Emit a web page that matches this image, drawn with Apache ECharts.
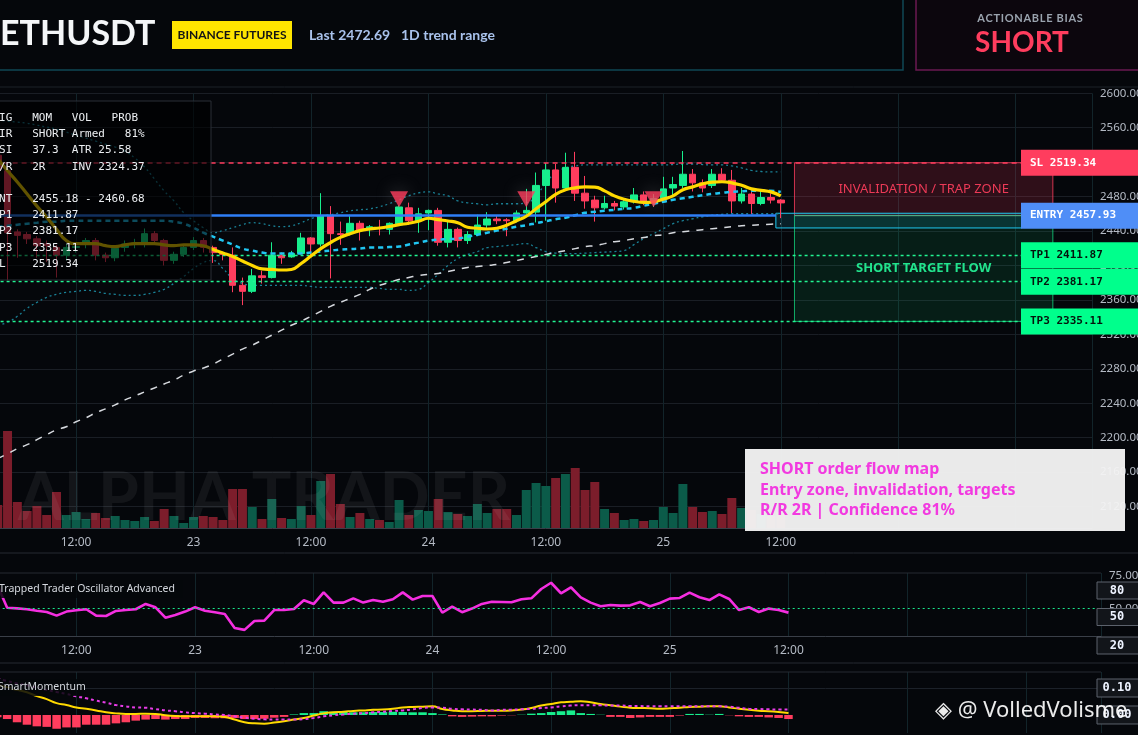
<!DOCTYPE html>
<html><head><meta charset="utf-8">
<script src="https://cdn.jsdelivr.net/npm/echarts@6/dist/echarts.min.js"></script>
<style>html,body{margin:0;padding:0;background:#05070b;overflow:hidden}#c{width:1138px;height:735px}</style>
</head><body><div id="c"></div>
<script>
// hours since 22 00:00 (hourly candles, 22 04:00 .. 25 12:00)
const hours = [4,5,6,7,8,9,10,11,12,13,14,15,16,17,18,19,20,21,22,23,24,25,26,27,28,29,30,31,32,33,34,35,36,37,38,39,40,41,42,43,44,45,46,47,48,49,50,51,52,53,54,55,56,57,58,59,60,61,62,63,64,65,66,67,68,69,70,71,72,73,74,75,76,77,78,79,80,81,82,83,84];
const lastLabelHour = 84;
// [open, close, low, high]
const ohlc = [
[2528,2512,2505,2534],[2510,2438,2383,2518],[2439,2435,2409,2442],[2436,2431,2425,2439],[2431,2423,2409,2434],
[2425,2423,2404,2429],[2421,2412,2386,2424],[2412,2421,2406,2425],[2421,2422,2415,2426],[2426,2429,2420,2432],
[2429,2412,2406,2432],[2412,2409,2404,2415],[2409,2420,2405,2423],[2421,2425,2416,2429],[2425,2426,2420,2431],
[2425,2437,2421,2443],[2437,2429,2425,2440],[2429,2406,2400,2431],[2406,2413,2402,2416],[2413,2421,2410,2424],
[2421,2429,2418,2433],[2429,2421,2415,2432],[2421,2415,2403,2423],[2414,2413,2406,2416],[2412,2377,2369,2421],
[2377,2370,2354,2386],[2370,2388,2368,2396],[2388,2386,2379,2394],[2386,2412,2385,2427],[2412,2409,2402,2415],
[2410,2414,2409,2417],[2414,2432,2413,2438],[2432,2425,2410,2433],[2425,2458,2422,2484],[2458,2437,2385,2469],
[2437,2436,2424,2451],[2437,2449,2435,2459],[2449,2441,2429,2452],[2442,2445,2434,2447],[2444,2443,2435,2453],
[2442,2449,2436,2450],[2447,2468,2446,2470],[2467,2452,2447,2473],[2452,2460,2438,2467],[2461,2464,2441,2465],
[2464,2427,2423,2467],[2427,2442,2421,2451],[2442,2429,2421,2444],[2429,2436,2425,2440],[2436,2447,2434,2459],
[2447,2454,2442,2462],[2454,2452,2448,2458],[2453,2452,2434,2455],[2452,2461,2450,2464],[2461,2464,2460,2489],
[2462,2493,2450,2508],[2493,2511,2452,2519],[2511,2490,2473,2518],[2490,2514,2489,2531],[2514,2484,2475,2532],
[2484,2475,2466,2504],[2476,2467,2451,2481],[2467,2472,2465,2481],[2472,2469,2464,2475],[2468,2474,2465,2478],
[2474,2482,2472,2490],[2482,2474,2470,2486],[2474,2478,2468,2483],[2478,2489,2477,2503],[2490,2494,2481,2503],
[2493,2506,2490,2533],[2506,2496,2486,2512],[2496,2490,2485,2500],[2493,2506,2490,2512],[2506,2499,2496,2513],
[2499,2475,2461,2511],[2475,2483,2472,2490],[2483,2472,2460,2487],[2472,2479,2470,2487],[2479,2476,2472,2484],
[2476,2472.69,2455,2477]
];
const volume = [23,97,26,17,22,13,36,13,16,9, 15,10,12,8,7,11,7,19,12,5, 11,12,11,8,39,39,21,9,29,10, 9,22,13,47,54,24,11,15,9,8,
 6,28,13,18,17,29,16,14,12,24, 15,19,19,13,38,45,42,50,54,60, 38,46,19,15,8,9,7,8,21,15, 44,21,16,17,14,30,20,18,14,12, 16];
const fastMA = [2524,2510,2497,2483,2469,2456,2442,2429,2425.4,2425.4, 2425.4,2423,2422,2424,2425.4,2425.4,2425.4,2424,2423,2424,
 2424,2423,2418.5,2414.5,2410.4,2405.2,2400,2396,2395.4,2394.8, 2395.4,2402.3,2411,2419.6,2426.6,2432.7,2437,2440.5,2442.4,2443.6,
 2445.3,2447.4,2449.1,2451.4,2454.9,2453.2,2451.7,2449.7,2444.5,2443.3, 2442.4,2443.3,2446.8,2452,2457.2,2465.9,2474,2482.7,2487.9,2490.2,
 2491.3,2491.1,2486.7,2480.9,2476.9,2474.6,2473.4,2474,2477.1,2480.9, 2487.9,2491.3,2494.8,2496.8,2497.3,2496,2493.1,2489,2487.3,2485.5, 2480.9];
const slowMA = [2445.1,2446.2,2447.4,2448.6,2449.7,2450.9,2450.9,2452,2452,2452, 2452,2452,2452,2452,2452,2452,2452,2452,2450.9,2448.6,
 2443.9,2438.1,2433.5,2428.9,2424.3,2419.6,2417.3,2415,2413.9,2413.9, 2413.9,2413.9,2415,2416.2,2417.3,2418.5,2419.1,2419.6,2420.8,2420.8,
 2421.4,2422,2424.3,2426.6,2428.9,2430.1,2430.6,2431.2,2433.5,2435.8, 2438.1,2440.5,2442.8,2445.1,2446.8,2449.1,2451.4,2453.8,2455.5,2458.4,
 2461.3,2462.4,2463.6,2464.7,2465.9,2467,2469.4,2471.7,2474,2476.3, 2478,2479.8,2481.5,2483.2,2484.4,2485.5,2486.1,2486.7,2486.7,2486.7, 2485.5];
const upperBand = [2568.8,2567.6,2566.5,2565.3,2563,2560.7,2558.4,2554.9,2551.4,2548, 2544.5,2541,2537.6,2532.9,2524.9,2514.4,2500.6,2486.7,2475.1,2461.3,
 2452,2443.9,2438.1,2440.5,2443.9,2447.4,2449.7,2448.6,2446.2,2445.1, 2446.2,2449.7,2454.3,2457.8,2459,2461.3,2463.6,2464.7,2465.9,2468.2,
 2471.7,2476.3,2480.9,2484.4,2485.5,2483.2,2480.9,2475.1,2472.8,2471.7, 2470.5,2471.7,2471.7,2471.7,2472.8,2480.9,2496,2507.5,2513.3,2515.6,
 2516.8,2516.8,2516.8,2516.8,2516.8,2516.8,2516.8,2516.8,2516.8,2517.3, 2517.9,2517.9,2517.3,2516.8,2516.8,2515.6,2513.3,2510.4,2509.2,2508.7, 2508.7];
const lowerBand = [2330.6,2334.1,2341,2350.3,2357.2,2363,2366.5,2368.8,2369.9,2371.1, 2369.9,2367.6,2366.5,2365.3,2365.3,2366.5,2368.8,2372.3,2379.2,2387.3,
 2396.5,2403.5,2405.8,2396.5,2385,2379.2,2376.9,2376.9,2376.9,2376.9, 2376.9,2376.9,2375.7,2374.6,2374.6,2374.6,2374.6,2374.6,2374.6,2373.4,
 2372.3,2372.3,2371.1,2372.3,2380.3,2389.6,2400,2408.1,2412.7,2416.2, 2420.8,2422,2423.1,2424.3,2425.4,2420.8,2416.2,2414.4,2413.9,2413.9,
 2414.4,2415,2415.6,2416.2,2417.3,2424.3,2431.2,2437,2442.8,2448.6, 2452,2454.3,2456.6,2458.4,2459.5,2460.1,2460.1,2460.1,2460.1,2460.1, 2460.1];
const trendMA = [2175.7,2181.5,2187.3,2191.9,2197.7,2203.5,2209.2,2212.7,2218.5,2223.1, 2228.9,2233.5,2238.2,2243.9,2248.5,2253.2,2257.8,2262.4,2267,2272.8,
 2277.4,2280.9,2285.5,2291.3,2297.1,2302.9,2307.5,2313.3,2319.1,2324.9, 2330.6,2335.3,2341,2346.8,2352.6,2357.2,2361.8,2366.5,2372.3,2376.9,
 2380.3,2383.8,2386.1,2388.4,2389.6,2390.8,2393.1,2395.4,2397.7,2398.8, 2400,2401.2,2403.5,2405.8,2408.1,2410.4,2412.7,2415,2417.3,2419.6,
 2422,2423.1,2425.4,2427.7,2428.9,2431.2,2432.4,2434.7,2435.8,2438.1, 2439.3,2440.5,2441.6,2442.8,2443.9,2445.1,2446.2,2446.8,2447.4,2448, 2448.6];
const signalHours = [45, 58, 71];
const signalLevel = 2477;
const oscTTO = [68.1,50.6,50.1,49.4,48.3,47.3,44.5,47.6,48.6,49.4, 44.5,44.2,48.1,48.8,49.4,53.5,50.9,42.9,45,47.6,
 50.9,48.3,47.1,45.8,35,33.5,40.4,40.6,48.8,48.8, 49.6,56.3,53.5,62.4,54.5,54.5,57.8,54.5,56.5,55.2,
 57.1,62.4,56.8,59.6,59.6,46.8,51.4,47.1,49.9,53.5, 55.2,55,54.8,57.1,57.8,65,69.8,61.7,66.3,58.6,
 54.5,51.7,52.7,52.2,52.4,55,51.7,54.2,57.6,58.1, 62.2,58.6,56.5,60.9,57.3,48.8,50.9,47.3,49.9,48.8, 46.8];
const momHist = [-0.008,-0.015,-0.027,-0.036,-0.042,-0.044,-0.051,-0.046,-0.046,-0.036, -0.036,-0.036,-0.031,-0.027,-0.021,-0.017,-0.015,-0.017,-0.015,-0.015,
 -0.011,-0.011,-0.012,-0.012,-0.011,-0.015,-0.015,-0.014,-0.010,-0.007, 0.002,0.007,0.007,0.014,0.012,0.012,0.010,0.010,0.011,0.011,
 0.012,0.011,0.010,0.010,0.007,0.002,-0.005,-0.007,-0.006,-0.005, -0.005,-0.002,-0.001,0.001,0.005,0.007,0.011,0.014,0.017,0.007,
 0.004,0.001,-0.007,-0.007,-0.011,-0.009,-0.007,-0.007,-0.007,-0.002, 0.004,0.004,0.001,0.004,-0.001,-0.005,-0.007,-0.007,-0.009,-0.011, -0.015];
const momLine = [0.112,0.102,0.093,0.084,0.070,0.059,0.044,0.037,0.028,0.023, 0.017,0.010,0.006,0.004,0.004,0.005,0.004,-0.001,-0.004,-0.005,
 -0.005,-0.005,-0.005,-0.007,-0.017,-0.027,-0.031,-0.032,-0.028,-0.023, -0.017,-0.011,-0.002,0.006,0.010,0.012,0.015,0.017,0.019,0.020,
 0.023,0.028,0.030,0.031,0.032,0.022,0.017,0.014,0.014,0.015, 0.016,0.016,0.017,0.020,0.026,0.035,0.041,0.047,0.049,0.051,
 0.047,0.041,0.036,0.031,0.027,0.026,0.025,0.023,0.025,0.027, 0.030,0.031,0.032,0.032,0.028,0.023,0.019,0.016,0.014,0.011, 0.007];
const momSignal = [0.135,0.126,0.117,0.110,0.101,0.093,0.085,0.078,0.069,0.062, 0.053,0.046,0.037,0.032,0.028,0.027,0.022,0.017,0.014,0.010,
 0.007,0.005,0.002,0.000,-0.005,-0.010,-0.014,-0.016,-0.017,-0.017, -0.017,-0.015,-0.011,-0.005,-0.001,0.002,0.005,0.007,0.010,0.012,
 0.015,0.017,0.021,0.026,0.028,0.027,0.023,0.021,0.020,0.019, 0.017,0.019,0.020,0.021,0.023,0.026,0.028,0.032,0.035,0.036,
 0.036,0.036,0.035,0.035,0.033,0.033,0.032,0.032,0.032,0.032, 0.032,0.032,0.032,0.032,0.031,0.027,0.023,0.022,0.021,0.020, 0.020];
// trade levels
const slLevel = 2519.34, entryLevel = 2457.93, tp1Level = 2411.87, tp2Level = 2381.17, tp3Level = 2335.11;
const entryZoneHigh = 2460.68, entryZoneLow = 2443.6;
const zoneStartHour = 85.4, zoneEndHour = 111.8, entryBoxStart = 83.5, entryBoxEnd = 108.6;
const oscTicks = [50, 75];
const momTicks = [0, 0.1];
const tableRows = ['SIG   MOM   VOL   PROB','DIR   SHORT Armed   81%','RSI   37.3  ATR 25.58','R/R   2R    INV 2324.37','','ENT   2455.18 - 2460.68','TP1   2411.87','TP2   2381.17','TP3   2335.11','SL    2519.34'];
const noteLines = ['SHORT order flow map','Entry zone, invalidation, targets','R/R 2R | Confidence 81%'];

const GREEN = '#17ef8d', RED = '#ff3d5e', AXC = '#b4bac4', LINEC = '#3a3f48';
function hourLabel(v){
  if (v > lastLabelHour + 1e-6) return '';
  const r24 = ((v % 24) + 24) % 24, r12 = ((v % 12) + 12) % 12;
  if (Math.abs(r24) < 1e-6) return String(22 + Math.round(v / 24));
  if (Math.abs(r12) < 1e-6) return '12:00';
  return '';
}
const pts = arr => hours.map((h, i) => [h, arr[i]]);
const candleData = hours.map((h, i) => [h, ohlc[i][0], ohlc[i][1], ohlc[i][2], ohlc[i][3]]);
const volData = hours.map((h, i) => ({ value: [h, volume[i]], itemStyle: { color: ohlc[i][1] >= ohlc[i][0] ? '#0b5b49' : '#7c1d2b' } }));
const histData = hours.map((h, i) => ({ value: [h, momHist[i]], itemStyle: { color: momHist[i] >= 0 ? GREEN : RED } }));

const chart = echarts.init(document.getElementById('c'));
const xBase = (grid, max, showLabel) => ({
  type: 'value', gridIndex: grid, min: 0, max: max, interval: 12,
  axisLabel: { show: showLabel, formatter: hourLabel, color: AXC, fontSize: 12, fontFamily: 'Noto Sans', margin: 9, showMaxLabel: false, showMinLabel: false },
  axisLine: { show: showLabel, lineStyle: { color: LINEC } },
  axisTick: { show: false },
  splitLine: { show: true, lineStyle: { color: '#12242a', width: 1 } }
});
const option = {
  backgroundColor: '#05070b',
  animation: false,
  grid: [
    { left: -41.4, width: 1133.4, top: 93.3, height: 413.3, outerBoundsMode: 'none' },
    { left: -41.4, width: 1133.4, top: 400, height: 128, outerBoundsMode: 'none' },
    { left: -42.3, width: 1143.3, top: 573, height: 63, outerBoundsMode: 'none' },
    { left: -42.3, width: 1143.3, top: 672, height: 61, outerBoundsMode: 'none' }
  ],
  xAxis: [xBase(0, 115.8, false), xBase(1, 115.8, true), xBase(2, 115.6, true), xBase(3, 115.6, false)],
  yAxis: [
    { type: 'value', gridIndex: 0, position: 'right', min: 2120, max: 2600, interval: 40,
      axisLabel: { formatter: v => v.toFixed(2), color: AXC, fontSize: 11.5, fontFamily: 'Noto Sans', margin: 8 },
      axisLine: { show: true, lineStyle: { color: LINEC } }, axisTick: { show: true, length: 4, lineStyle: { color: LINEC } },
      splitLine: { show: true, lineStyle: { color: '#1a1e25' } } },
    { type: 'value', gridIndex: 1, position: 'right', min: 0, max: 128,
      axisLabel: { show: false }, axisLine: { show: true, lineStyle: { color: LINEC } }, axisTick: { show: false }, splitLine: { show: false } },
    { type: 'value', gridIndex: 2, position: 'right', min: 28.8, max: 77.3,
      axisLabel: { customValues: oscTicks, formatter: v => v.toFixed(2), color: AXC, fontSize: 11.5, fontFamily: 'Noto Sans', margin: 8 },
      axisTick: { show: true, customValues: oscTicks, length: 4, lineStyle: { color: LINEC } },
      axisLine: { show: true, lineStyle: { color: LINEC } }, splitLine: { show: false } },
    { type: 'value', gridIndex: 3, position: 'right', min: -0.0667, max: 0.1593,
      axisLabel: { show: false }, axisTick: { show: false },
      axisLine: { show: true, lineStyle: { color: LINEC } }, splitLine: { show: false } }
  ],
  series: [
    { type: 'line', xAxisIndex: 0, yAxisIndex: 0, data: pts(upperBand), showSymbol: false, smooth: true, silent: true, z: 1,
      lineStyle: { color: '#1a8196', width: 1.3, type: [2, 3] } },
    { type: 'line', xAxisIndex: 0, yAxisIndex: 0, data: pts(lowerBand), showSymbol: false, smooth: true, silent: true, z: 1,
      lineStyle: { color: '#1a8196', width: 1.3, type: [2, 3] } },
    { type: 'line', xAxisIndex: 0, yAxisIndex: 0, data: pts(trendMA), showSymbol: false, smooth: true, silent: true, z: 1,
      lineStyle: { color: '#d6d9de', width: 1.5, type: [7, 7] } },
    { type: 'candlestick', xAxisIndex: 0, yAxisIndex: 0, data: candleData, encode: { x: 0, y: [1, 2, 3, 4] },
      barWidth: 7, z: 3, silent: true,
      itemStyle: { color: GREEN, color0: RED, borderColor: GREEN, borderColor0: RED, borderWidth: 1 },
      markLine: { silent: true, symbol: ['none', 'none'], label: { show: false }, animation: false,
        data: [
          { yAxis: slLevel, lineStyle: { color: RED, type: [5, 4], width: 1.6 } },
          { yAxis: tp1Level, lineStyle: { color: '#22f592', type: [3, 3], width: 1.3 } },
          { yAxis: tp2Level, lineStyle: { color: '#22f592', type: [3, 3], width: 1.3 } },
          { yAxis: tp3Level, lineStyle: { color: '#22f592', type: [3, 3], width: 1.3 } },
          [ { coord: [0, entryLevel], lineStyle: { color: '#2f7ff7', type: 'solid', width: 2.5 } }, { coord: [entryBoxStart, entryLevel] } ]
        ] },
      markArea: { silent: true,
        data: [
          [ { xAxis: zoneStartHour, yAxis: slLevel, itemStyle: { color: 'rgba(255,61,94,0.17)', borderColor: 'rgba(255,61,94,0.8)', borderWidth: 1 },
              label: { show: true, position: 'inside', formatter: 'INVALIDATION / TRAP ZONE', color: '#ec3a57', fontSize: 13, fontFamily: 'Noto Sans' } },
            { xAxis: zoneEndHour, yAxis: entryLevel } ],
          [ { xAxis: zoneStartHour, yAxis: entryLevel, itemStyle: { color: 'rgba(23,239,141,0.1)', borderColor: 'rgba(23,239,141,0.7)', borderWidth: 1 },
              label: { show: true, position: 'inside', formatter: 'SHORT TARGET FLOW', color: '#22e38d', fontSize: 13, fontWeight: 'bold', fontFamily: 'Noto Sans' } },
            { xAxis: zoneEndHour, yAxis: tp3Level } ],
          [ { xAxis: entryBoxStart, yAxis: entryZoneHigh, itemStyle: { color: 'rgba(30,200,240,0.13)', borderColor: '#1ec8f0', borderWidth: 1 }, label: { show: false } },
            { xAxis: entryBoxEnd, yAxis: entryZoneLow } ]
        ] } },
    { type: 'line', xAxisIndex: 0, yAxisIndex: 0, data: pts(slowMA), showSymbol: false, smooth: true, silent: true, z: 4,
      lineStyle: { color: '#20c6f2', width: 2.5, type: [5, 4] } },
    { type: 'line', xAxisIndex: 0, yAxisIndex: 0, data: pts(fastMA), showSymbol: false, smooth: true, silent: true, z: 5,
      lineStyle: { color: '#ffd900', width: 3.2 } },
    { type: 'scatter', xAxisIndex: 0, yAxisIndex: 0, data: signalHours.map(h => [h, signalLevel]), symbol: 'triangle', symbolRotate: 180,
      symbolSize: [18, 16], silent: true, z: 6,
      itemStyle: { color: RED, shadowBlur: 18, shadowColor: 'rgba(210,210,210,0.35)' } },
    { type: 'bar', xAxisIndex: 1, yAxisIndex: 1, data: volData, barWidth: 9, silent: true, z: 0 },
    { type: 'line', xAxisIndex: 2, yAxisIndex: 2, data: pts(oscTTO), showSymbol: false, silent: true, z: 3,
      lineStyle: { color: '#f52ee0', width: 2.6 },
      markLine: { silent: true, symbol: ['none', 'none'], label: { show: false },
        data: [ { yAxis: 50, lineStyle: { color: '#19e68c', type: [2, 3], width: 1 } } ] } },
    { type: 'bar', xAxisIndex: 3, yAxisIndex: 3, data: histData, barWidth: 8.5, silent: true, z: 2 },
    { type: 'line', xAxisIndex: 3, yAxisIndex: 3, data: pts(momLine), showSymbol: false, smooth: true, silent: true, z: 3,
      lineStyle: { color: '#ffd900', width: 2 } },
    { type: 'line', xAxisIndex: 3, yAxisIndex: 3, data: pts(momSignal), showSymbol: false, smooth: true, silent: true, z: 4,
      lineStyle: { color: '#e83ce8', width: 2, type: [3, 3] },
      markLine: { silent: true, symbol: ['none', 'none'], label: { show: false },
        data: [ { yAxis: momTicks[1], lineStyle: { color: '#1c2129', type: 'solid', width: 1 } } ] } }
  ]
};
chart.setOption(option);

const py = v => chart.convertToPixel({ yAxisIndex: 0 }, v);
const my = v => chart.convertToPixel({ yAxisIndex: 3 }, v);
const G = [];
const txt = (x, y, text, font, fill, align, z, extra) => G.push(Object.assign({ type: 'text', z: z || 100, silent: true,
  style: Object.assign({ x: x, y: y, text: text, font: font, fill: fill, textAlign: align || 'left', textVerticalAlign: 'middle' }, extra || {}) }));
const rect = (x, y, w, h, fill, stroke, z, lw) => G.push({ type: 'rect', z: z || 100, silent: true, shape: { x: x, y: y, width: w, height: h },
  style: { fill: fill, stroke: stroke || null, lineWidth: lw || 1 } });
const hline = (x1, x2, y, color, z) => G.push({ type: 'line', z: z || 90, silent: true, shape: { x1: x1, y1: y, x2: x2, y2: y }, style: { stroke: color, lineWidth: 1 } });

// header
txt(0, 34, 'ETHUSDT', 'bold 34px Lato', '#f4f6f8', 'left', 100, { shadowBlur: 12, shadowColor: 'rgba(110,200,230,0.35)' });
rect(172, 21, 120, 28, '#ffe500');
txt(232, 35, 'BINANCE FUTURES', 'bold 12px Lato', '#141414', 'center', 101);
txt(309, 35, 'Last 2472.69', 'bold 14px Lato', '#a9c2ec');
txt(401, 35, '1D trend range', 'bold 14px Lato', '#a9c2ec');
G.push({ type: 'polyline', z: 100, silent: true, shape: { points: [[0, 70], [903, 70], [903, -2]] }, style: { stroke: '#0f4855', lineWidth: 1.5, fill: null } });
rect(916, -2, 225, 72, 'rgba(25,6,18,0.35)', '#6a1a52', 100, 1.5);
txt(1030, 18, 'A\u200AC\u200AT\u200AI\u200AO\u200AN\u200AA\u200AB\u200AL\u200AE\u2009 B\u200AI\u200AA\u200AS', 'bold 11px Lato', '#9aa3ae', 'center', 101);
txt(1022, 43, 'SHORT', 'bold 28px Lato', RED, 'center', 101, { shadowBlur: 12, shadowColor: 'rgba(255,61,94,0.45)' });

// pane borders
hline(0, 1138, 87, '#1d2229');
hline(0, 1138, 553, '#262b33');
hline(0, 1101, 573, '#262b33');
hline(0, 1138, 663, '#262b33');
hline(0, 1101, 672, '#262b33');

// watermark
txt(18, 499, 'ALPHA TRADER', 'bold 66px Lato', 'rgba(255,255,255,0.06)', 'left', 50);

// left info table
rect(-1, 101, 212, 179, 'rgba(0,0,0,0.62)', '#2a2f37', 60);
const rowY = [118, 134, 150, 167, 183, 199, 215, 231, 248, 264];
tableRows.forEach((r, i) => { if (r) txt(-7.6, rowY[i], r, '11px "DejaVu Sans Mono"', '#eceff2', 'left', 61); });

// note box
rect(745, 449, 380, 82, 'rgba(244,244,244,0.96)', null, 100);
[469, 490, 510].forEach((y, i) => txt(760, y, noteLines[i], 'bold 16px "Noto Sans"', '#f23ae0', 'left', 101));

// right level boxes
const lvl = [
  ['SL ' + slLevel.toFixed(2), slLevel, RED, '#ffffff'],
  ['ENTRY ' + entryLevel.toFixed(2), entryLevel, '#4f8ef7', '#ffffff'],
  ['TP1 ' + tp1Level.toFixed(2), tp1Level, '#00ff8c', '#04140c'],
  ['TP2 ' + tp2Level.toFixed(2), tp2Level, '#00ff8c', '#04140c'],
  ['TP3 ' + tp3Level.toFixed(2), tp3Level, '#00ff8c', '#04140c']
];
lvl.forEach(l => { const y = py(l[1]); rect(1021, y - 13, 117, 26, l[2], null, 110); txt(1030, y, l[0], 'bold 11px "DejaVu Sans Mono"', l[3], 'left', 111); });

// oscillator threshold boxes
[[590.5, '80'], [617, '50'], [645.5, '20']].forEach(b => { rect(1097, b[0] - 8.5, 42, 17, '#12151a', '#5c626c', 110); txt(1117, b[0], b[1], 'bold 12px "DejaVu Sans Mono"', '#eef3ff', 'center', 111); });
// momentum axis boxes
momTicks.forEach(v => { const y = my(v); rect(1097, y - 9, 42, 18, '#12151a', '#5c626c', 110); txt(1117, y, v.toFixed(2), 'bold 12px "DejaVu Sans Mono"', '#eef3ff', 'center', 111); });

// pane titles
rect(0, 580, 183, 18, 'rgba(5,7,11,0.85)', null, 100);
txt(-1, 589, 'Trapped Trader Oscillator Advanced', '10.5px "Noto Sans"', '#d4d8de', 'left', 101);
rect(0, 679, 84, 17, 'rgba(5,7,11,0.85)', null, 100);
txt(-2, 687, 'SmartMomentum', '10.5px "Noto Sans"', '#d4d8de', 'left', 101);

// corner watermark
txt(935, 711, '◈ @ VolledVolisme', '22px "Noto Sans"', 'rgba(255,255,255,0.92)', 'left', 120, { shadowBlur: 3, shadowColor: 'rgba(0,0,0,0.8)' });

chart.setOption({ graphic: { elements: G } });
</script>
</body></html>
